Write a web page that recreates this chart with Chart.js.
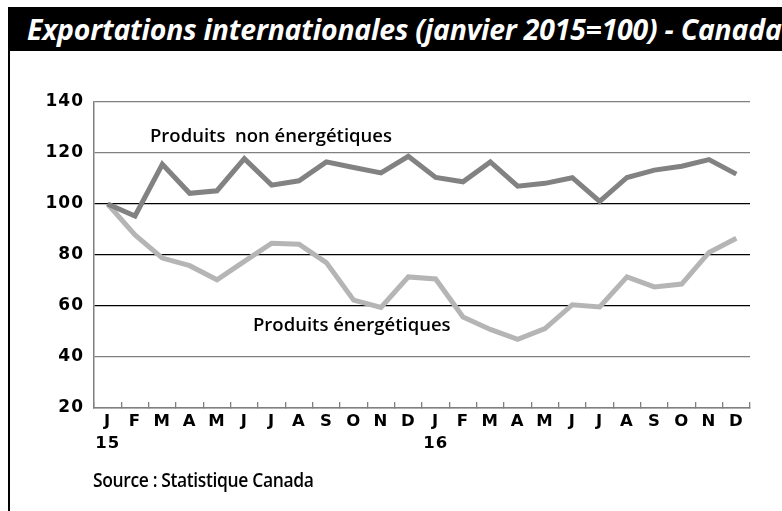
<!DOCTYPE html>
<html>
<head>
<meta charset="utf-8">
<script src="https://cdn.jsdelivr.net/npm/chart.js"></script>
<style>
  body { margin: 0; background: #fff; }
  #wrap { position: relative; width: 782px; height: 511px; overflow: hidden; }
  #titlebar { position: absolute; left: 8px; top: 7px; width: 774px; height: 44px; background: #000; overflow: hidden; }
  #titlebar span { position: absolute; left: 19px; top: 3px; color: #fff; font: italic bold 28px "Open Sans", sans-serif; white-space: nowrap; transform: scaleX(1.015); transform-origin: left top; letter-spacing: -0.2px; }
  #leftline { position: absolute; left: 8px; top: 7px; width: 1.5px; height: 504px; background: #000; }
  #source { position: absolute; left: 93px; top: 467px; font: 600 19px "Open Sans", sans-serif; white-space: nowrap; transform: scaleX(0.92); transform-origin: left top; letter-spacing: -0.4px; color: #000; }
  canvas { position: absolute; left: 0; top: 0; }
</style>
</head>
<body>
<div id="wrap">
  <canvas id="c" width="782" height="511"></canvas>
  <div id="titlebar"><span>Exportations internationales (janvier 2015=100) - Canada</span></div>
  <div id="leftline"></div>
  <div id="source">Source : Statistique Canada</div>
</div>
<script>
// Indices des exportations, janvier 2015 = 100
const months = ['J', 'F', 'M', 'A', 'M', 'J', 'J', 'A', 'S', 'O', 'N', 'D',
                'J', 'F', 'M', 'A', 'M', 'J', 'J', 'A', 'S', 'O', 'N', 'D'];
const years = ['15', '', '', '', '', '', '', '', '', '', '', '',
               '16', '', '', '', '', '', '', '', '', '', '', ''];
const nonEnergy = [100, 95.3, 115.6, 104.2, 105.2, 117.8, 107.4, 109.1, 116.5, 114.3, 112.2, 118.7,
                   110.4, 108.7, 116.5, 107, 108.1, 110.3, 101, 110.4, 113.3, 114.8, 117.4, 111.7];
const energy = [100, 87.9, 78.8, 75.8, 70.3, 77.5, 84.6, 84.2, 77, 62.3, 59.4, 71.4,
                70.6, 55.7, 50.8, 46.9, 51.1, 60.5, 59.6, 71.4, 67.5, 68.6, 81, 86.6];
const yTicks = [20, 40, 60, 80, 100, 120, 140];

const labels = months.map((m, i) => years[i] ? [m, years[i]] : m);

// texte posé sur le graphique
const lineLabels = {
    id: 'lineLabels',
    afterDraw(chart) {
        const ctx = chart.ctx;
        ctx.save();
        ctx.letterSpacing = '0px';
        ctx.fillStyle = '#000';
        ctx.font = '600 18.5px "Open Sans", sans-serif';
        ctx.textBaseline = 'alphabetic';
        ctx.textAlign = 'left';
        ctx.fillText('Produits  non énergétiques', 150, 142);
        ctx.fillText('Produits énergétiques', 253, 331);
        ctx.restore();
    }
};

const spacing = {
    id: 'spacing',
    beforeDraw(chart) { chart.ctx.letterSpacing = '1px'; },
    afterDraw(chart) { chart.ctx.letterSpacing = '0px'; }
};

new Chart(document.getElementById('c'), {
    type: 'line',
    data: {
        labels: labels,
        datasets: [
            {
                label: 'Produits non énergétiques',
                data: nonEnergy,
                borderColor: '#828282',
                borderWidth: 5,
                borderJoinStyle: 'miter',
                pointRadius: 0,
                tension: 0
            },
            {
                label: 'Produits énergétiques',
                data: energy,
                borderColor: '#b5b5b5',
                borderWidth: 5,
                borderJoinStyle: 'miter',
                pointRadius: 0,
                tension: 0
            }
        ]
    },
    options: {
        responsive: false,
        animation: false,
        layout: { padding: { left: 0, right: 32, top: 102, bottom: 43 } },
        plugins: { legend: { display: false }, tooltip: { enabled: false } },
        scales: {
            x: {
                offset: true,
                afterFit: s => { s.height = 60; },
                grid: { offset: true, drawOnChartArea: false, tickLength: -6, color: '#808080', lineWidth: 1.3 },
                border: { color: '#808080', width: 1.5 },
                ticks: {
                    color: '#000',
                    padding: 9,
                    maxRotation: 0,
                    autoSkip: false,
                    font: { family: '"DejaVu Sans", sans-serif', weight: 'bold', size: 16.5, lineHeight: 1.33 }
                }
            },
            y: {
                min: 20,
                max: 140,
                afterFit: s => { s.width = 94; },
                afterBuildTicks: s => { s.ticks = yTicks.map(v => ({ value: v })); },
                grid: {
                    drawTicks: false,
                    lineWidth: 1.3,
                    color: c => (c.tick && [60, 80, 100].includes(c.tick.value)) ? '#000' : '#808080'
                },
                border: { color: '#808080', width: 1.5 },
                ticks: {
                    color: '#000',
                    padding: 10,
                    font: { family: '"DejaVu Sans", sans-serif', weight: 'bold', size: 17 }
                }
            }
        }
    },
    plugins: [spacing, lineLabels]
});
</script>
</body>
</html>
